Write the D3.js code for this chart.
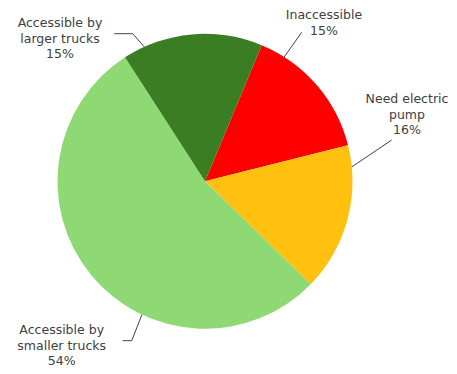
<!DOCTYPE html>
<html><head><meta charset="utf-8">
<script src="https://cdn.jsdelivr.net/npm/d3@7"></script>
<style>html,body{margin:0;padding:0;background:#fff;}svg{display:block;}</style>
</head><body>
<svg id="c" width="457" height="374"></svg>
<script>
// ---- data ----
const categories = ["Inaccessible", "Need electric pump", "Accessible by smaller trucks", "Accessible by larger trucks"];
const labelLines = [["Inaccessible"], ["Need electric", "pump"], ["Accessible by", "smaller trucks"], ["Accessible by", "larger trucks"]];
const values = [14.8, 16.2, 53.6, 15.4];
const colors = ["#FF0000", "#FFC010", "#8ED973", "#3A7D22"];

// ---- layout (positions/styles only) ----
const cx = 205, cy = 181.3, R = 147.5;
const startDeg = 22.6;
const labelLayout = [
  {x: 324, y: 15, anchorDeg: 32.5, path: [[301.7, 32.3]]},
  {x: 407, y: 99, anchorDeg: 84.4, path: [[391.7, 140]]},
  {x: 61.7, y: 330, anchorDeg: 205.3, path: [[122.7, 340.7], [131.7, 340.7]]},
  {x: 60, y: 23, anchorDeg: 335.7, path: [[114.3, 33.7], [132.7, 33.7]]}
];
const lineH = 15.5;

const svg = d3.select("#c");
const rad = d => d * Math.PI / 180;
const pie = d3.pie().sort(null).value(d => d)
  .startAngle(rad(startDeg)).endAngle(rad(startDeg + 360));
const arcs = pie(values);
const arc = d3.arc().innerRadius(0).outerRadius(R);

const g = svg.append("g").attr("transform", `translate(${cx},${cy})`);
g.selectAll("path").data(arcs).join("path")
  .attr("d", arc).attr("fill", (d, i) => colors[i]);

// leader lines
const line = d3.line();
labelLayout.forEach((L, i) => {
  const a = rad(L.anchorDeg);
  const edge = [cx + Math.sin(a) * R, cy - Math.cos(a) * R];
  svg.append("path").attr("d", line([...L.path, edge]))
    .attr("fill", "none").attr("stroke", "#404040").attr("stroke-width", 1);
});

// labels
const fmt = v => Math.round(v) + "%";
labelLayout.forEach((L, i) => {
  const lines = [...labelLines[i], fmt(values[i])];
  const t = svg.append("text").attr("text-anchor", "middle")
    .attr("font-family", "'DejaVu Sans', sans-serif").attr("font-size", 12.5)
    .attr("fill", "#404040");
  lines.forEach((s, k) => {
    t.append("tspan").attr("x", L.x).attr("y", L.y + k * lineH)
      .attr("dy", "0.35em").text(s);
  });
});
</script>
</body></html>
